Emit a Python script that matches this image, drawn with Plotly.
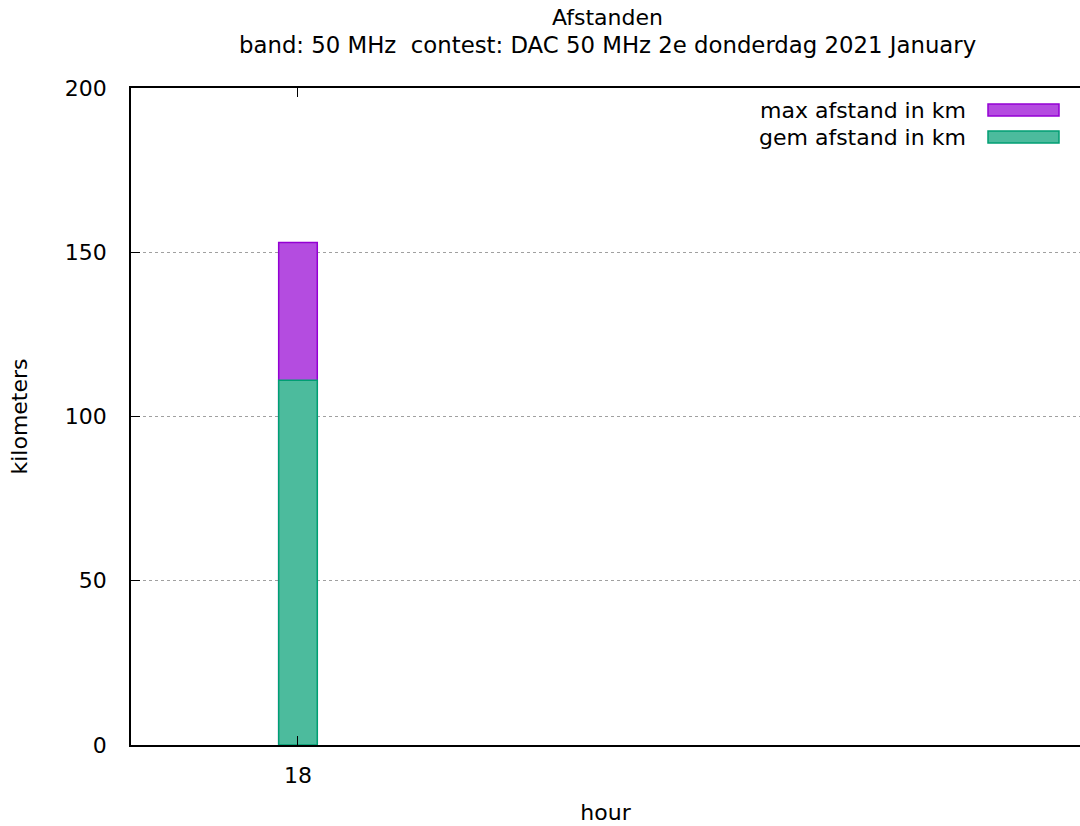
import plotly.graph_objects as go

hours = [18]
max_afstand = [153]
gem_afstand = [111]
series_names = ["max afstand in km", "gem afstand in km"]
y_ticks = [0, 50, 100, 150, 200]
title_lines = ["Afstanden", "band: 50 MHz\u00a0 contest: DAC 50 MHz 2e donderdag 2021 January"]

FONT = "DejaVu Sans"
FS = 22
purple_fill = "#b44ce0"
purple_line = "#9400d3"
green_fill = "#4cbb9d"
green_line = "#009e73"

fig = go.Figure()
fig.add_trace(go.Bar(x=hours, y=max_afstand, name=series_names[0], width=0.5,
                     marker=dict(color=purple_fill, line=dict(color=purple_line, width=1.5)),
                     showlegend=False))
fig.add_trace(go.Bar(x=hours, y=gem_afstand, name=series_names[1], width=0.5,
                     marker=dict(color=green_fill, line=dict(color=green_line, width=1.5)),
                     showlegend=False))

# legend (gnuplot style: text left, sample right)
leg = [(series_names[0], purple_fill, purple_line, 110), (series_names[1], green_fill, green_line, 137)]
for name, fc, lc, yc in leg:
    fig.add_annotation(xref="paper", yref="paper", x=(968 - 131) / 949, y=(745 - yc) / 657,
                       text=name, showarrow=False, xanchor="right", yanchor="middle",
                       font=dict(family=FONT, size=FS, color="#000"))
    fig.add_shape(type="rect", xref="paper", yref="paper",
                  x0=(988 - 131) / 949, x1=(1059 - 131) / 949,
                  y0=(745 - (yc - 6)) / 657, y1=(745 - (yc + 6)) / 657,
                  fillcolor=fc, line=dict(color=lc, width=1.5))

# title lines
for txt, yc, fs in [(title_lines[0], 18, FS), (title_lines[1], 45, 22.8)]:
    fig.add_annotation(xref="paper", yref="paper", x=(607 - 131) / 949, y=(745 - yc) / 657,
                       text=txt, showarrow=False, xanchor="center", yanchor="middle",
                       font=dict(family=FONT, size=fs, color="#000"))

fig.update_layout(
    width=1080, height=826,
    margin=dict(l=131, r=0, t=88, b=81),
    paper_bgcolor="white", plot_bgcolor="white",
    barmode="overlay",
    font=dict(family=FONT, size=FS, color="#000"),
)
fig.update_xaxes(range=[15.837, 28.13], tickvals=hours, ticktext=[str(h) for h in hours],
                 ticks="inside", ticklen=9, tickcolor="#000", showgrid=False, zeroline=False,
                 showline=True, linecolor="#000", linewidth=1.5, mirror="ticks",
                 ticklabelstandoff=10,
                 title=dict(text="hour", standoff=17, font=dict(family=FONT, size=FS)))
fig.update_yaxes(range=[0, 200], tickvals=y_ticks, ticks="inside", ticklen=9, tickcolor="#000",
                 showgrid=True, gridcolor="#a0a0a0", griddash="dot", gridwidth=1, zeroline=False,
                 showline=True, linecolor="#000", linewidth=1.5, ticklabelstandoff=18,
                 title=dict(text="kilometers", standoff=31, font=dict(family=FONT, size=FS)))

fig.write_html("out.html", config={"displayModeBar": False},
               post_script="document.body.style.margin='0';")
